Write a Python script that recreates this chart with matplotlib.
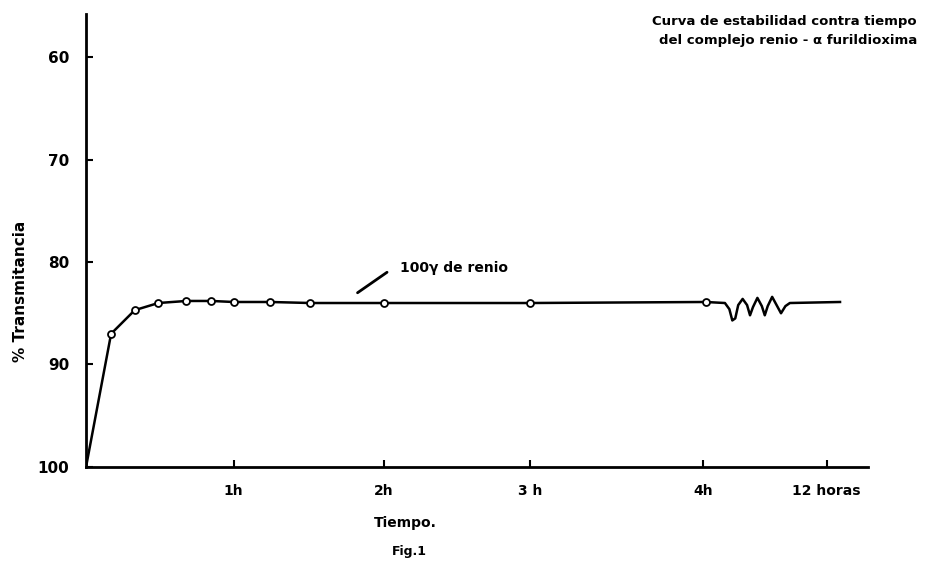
import numpy as np
import matplotlib.pyplot as plt

# positions on the time axis (1 unit = 1 h up to 3 h; the scale is compressed after that)
tick_pos = [1.0, 2.02, 3.01, 4.18, 5.02]
tick_labels = ['1h', '2h', '3 h', '4h', '12 horas']

# measured points (open circles)
t_pts = [0.0, 0.17, 0.33, 0.49, 0.68, 0.85, 1.0, 1.25, 1.52, 2.02, 3.01, 4.2]
T_pts = [100.0, 87.0, 84.7, 84.0, 83.8, 83.8, 83.9, 83.9, 84.0, 84.0, 84.0, 83.9]

# recorder trace after 4 h (instability then flat)
t_tail = [4.2, 4.33, 4.36, 4.38, 4.40, 4.42, 4.45, 4.48, 4.50, 4.52, 4.55,
          4.58, 4.60, 4.62, 4.65, 4.68, 4.71, 4.74, 4.77, 5.11]
T_tail = [83.9, 84.0, 84.6, 85.7, 85.5, 84.2, 83.6, 84.2, 85.2, 84.4, 83.5,
          84.3, 85.2, 84.3, 83.4, 84.2, 85.0, 84.3, 84.0, 83.9]

y_ticks = [60, 70, 80, 90, 100]

fig = plt.figure(figsize=(9.31, 5.61), dpi=100)
ax = fig.add_axes([0.0924, 0.1676, 0.84, 0.8074])

ax.plot(t_pts, T_pts, color='black', lw=1.8, zorder=2)
ax.plot(t_tail, T_tail, color='black', lw=1.8, solid_joinstyle='round', zorder=2)
ax.plot(t_pts[1:], T_pts[1:], 'o', ms=5, mfc='white', mec='black', mew=1.3, zorder=3)

ax.set_xlim(0, 5.3)
ax.set_ylim(100, 55.8)
ax.set_yticks(y_ticks)
ax.set_yticklabels([str(v) for v in y_ticks], fontsize=11, fontweight='bold')
ax.set_xticks(tick_pos)
ax.set_xticklabels(tick_labels, fontsize=10, fontweight='bold')
ax.tick_params(axis='both', direction='in', length=5, width=1.5, pad=12)
ax.tick_params(axis='y', pad=12)

for s in ['top', 'right']:
    ax.spines[s].set_visible(False)
for s in ['left', 'bottom']:
    ax.spines[s].set_linewidth(2)

fig.text(0.022, 0.48, '% Transmitancia', fontsize=11, fontweight='bold',
         rotation=90, ha='center', va='center')
fig.text(0.435, 0.06, 'Tiempo.', fontsize=10, fontweight='bold', ha='center')
fig.text(0.44, 0.01, 'Fig.1', fontsize=9, fontweight='bold', ha='center')

fig.text(0.985, 0.955, 'Curva de estabilidad contra tiempo', fontsize=9.5,
         fontweight='bold', ha='right')
fig.text(0.985, 0.922, 'del complejo renio - \u03b1 furildioxima', fontsize=9.5,
         fontweight='bold', ha='right')

ax.annotate('', xy=(1.84, 83.0), xytext=(2.04, 81.0),
            arrowprops=dict(arrowstyle='-', color='black', lw=2,
                            shrinkA=0, shrinkB=0))
ax.text(2.13, 80.6, '100\u03b3 de renio', fontsize=10, fontweight='bold',
        va='center')

fig.savefig('out.png', dpi=100)
